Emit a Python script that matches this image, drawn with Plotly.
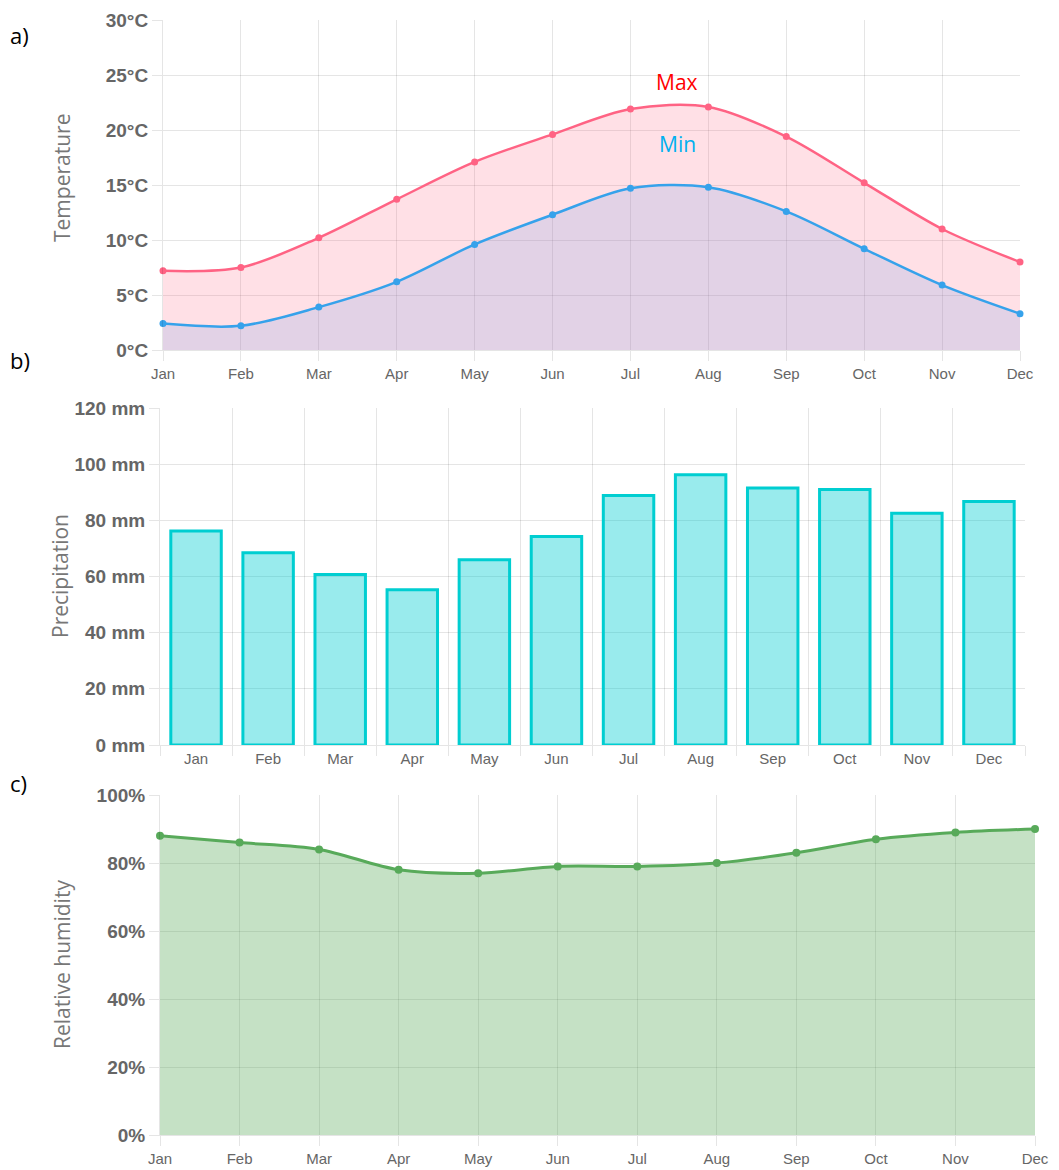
import plotly.graph_objects as go

# page body has an 8px margin; the figure is offset by it inside the window
OFF = 8
W, H = 1059 - OFF, 1170 - OFF

months = ["Jan", "Feb", "Mar", "Apr", "May", "Jun", "Jul", "Aug", "Sep", "Oct", "Nov", "Dec"]
temp_max = [7.2, 7.5, 10.2, 13.7, 17.1, 19.6, 21.9, 22.1, 19.4, 15.2, 11.0, 8.0]
temp_min = [2.4, 2.2, 3.9, 6.2, 9.6, 12.3, 14.7, 14.8, 12.6, 9.2, 5.9, 3.3]
precip = [76.2, 68.5, 60.7, 55.3, 66.0, 74.2, 88.8, 96.2, 91.5, 91.0, 82.5, 86.7]
humidity = [88, 86, 84, 78, 77, 79, 79, 80, 83, 87, 89, 90]

temp_ticks = [0, 5, 10, 15, 20, 25, 30]
precip_ticks = [0, 20, 40, 60, 80, 100, 120]
hum_ticks = [0, 20, 40, 60, 80, 100]

GRID = "rgba(0,0,0,0.1)"
TICK_FONT = dict(family="Liberation Sans, Arial", size=19, color="#666666", weight="bold")
XTICK_FONT = dict(family="Liberation Sans, Arial", size=15, color="#666666")
TITLE_FONT = dict(family="Open Sans, sans-serif", size=21, color="#777777")


def px_x(p):
    return (p - OFF) / W


def px_y(p):
    return 1 - (p - OFF) / H


fig = go.Figure()

# a) temperature
fig.add_scatter(x=months, y=temp_max, mode="lines+markers", line=dict(color="rgb(255,99,132)", width=2.5, shape="spline", smoothing=0.9),
                marker=dict(size=7), fill="tozeroy", fillcolor="rgba(255,99,132,0.2)", cliponaxis=False,
                xaxis="x", yaxis="y", showlegend=False)
fig.add_scatter(x=months, y=temp_min, mode="lines+markers", line=dict(color="rgb(54,162,235)", width=2.5, shape="spline", smoothing=0.9),
                marker=dict(size=7), fill="tozeroy", fillcolor="rgba(110,154,230,0.2)", cliponaxis=False,
                xaxis="x", yaxis="y", showlegend=False)

# b) precipitation
fig.add_bar(x=months, y=precip, width=0.7, marker=dict(color="rgba(0,206,209,0.4)", line=dict(color="rgb(0,206,209)", width=3)),
            xaxis="x2", yaxis="y2", showlegend=False)

# c) humidity
fig.add_scatter(x=months, y=humidity, mode="lines+markers", line=dict(color="rgb(88,170,90)", width=3, shape="spline", smoothing=0.9),
                marker=dict(size=8), fill="tozeroy", fillcolor="rgba(88,170,90,0.35)", cliponaxis=False,
                xaxis="x3", yaxis="y3", showlegend=False)

common_x = dict(type="category", showgrid=True, gridcolor=GRID, gridwidth=1, ticks="outside", ticklen=10,
                tickcolor=GRID, tickfont=XTICK_FONT, showline=True, linecolor=GRID, zeroline=False,
                fixedrange=True, automargin=False)
common_y = dict(showgrid=True, gridcolor=GRID, gridwidth=1, ticks="outside", ticklen=10, tickcolor=GRID,
                tickfont=TICK_FONT, showline=True, linecolor=GRID, zeroline=False, fixedrange=True, automargin=False)

fig.update_layout(
    width=W, height=H,
    margin=dict(l=0, r=0, t=0, b=0, pad=0),
    paper_bgcolor="white", plot_bgcolor="white",
    xaxis=dict(common_x, domain=[px_x(163), px_x(1020)], range=[0, 11], anchor="y"),
    yaxis=dict(common_y, domain=[px_y(350), px_y(20)], range=[0, 30], tickvals=temp_ticks,
               ticktext=[f"{v}°C" for v in temp_ticks], anchor="x"),
    xaxis2=dict(common_x, domain=[px_x(160), px_x(1025)], range=[-0.5, 11.5], tickson="boundaries", anchor="y2"),
    yaxis2=dict(common_y, domain=[px_y(745), px_y(408)], range=[0, 120], tickvals=precip_ticks,
                ticktext=[f"{v} mm" for v in precip_ticks], anchor="x2"),
    xaxis3=dict(common_x, domain=[px_x(160), px_x(1035)], range=[0, 11], anchor="y3"),
    yaxis3=dict(common_y, domain=[px_y(1135), px_y(795)], range=[0, 100], tickvals=hum_ticks,
                ticktext=[f"{v}%" for v in hum_ticks], anchor="x3"),
)

annotations = [
    dict(text="Temperature", x=px_x(62), y=px_y(178), textangle=-90),
    dict(text="Precipitation", x=px_x(60), y=px_y(576), textangle=-90),
    dict(text="Relative humidity", x=px_x(62), y=px_y(965), textangle=-90),
]
for a in annotations:
    fig.add_annotation(xref="paper", yref="paper", showarrow=False, font=TITLE_FONT, xanchor="center", yanchor="middle", **a)

for label, y in [("a)", 35), ("b)", 360), ("c)", 783)]:
    fig.add_annotation(text=label, xref="paper", yref="paper", x=px_x(8), y=px_y(y), showarrow=False,
                       xanchor="left", yanchor="middle", font=dict(family="Open Sans, sans-serif", size=22, color="black"))

fig.add_annotation(text="Max", x=6.6, y=24.4, xref="x", yref="y", showarrow=False,
                   font=dict(family="Open Sans, sans-serif", size=21, color="red"))
fig.add_annotation(text="Min", x=6.6, y=18.7, xref="x", yref="y", showarrow=False,
                   font=dict(family="Open Sans, sans-serif", size=21, color="rgb(0,176,240)"))

fig.write_html("out.html")
